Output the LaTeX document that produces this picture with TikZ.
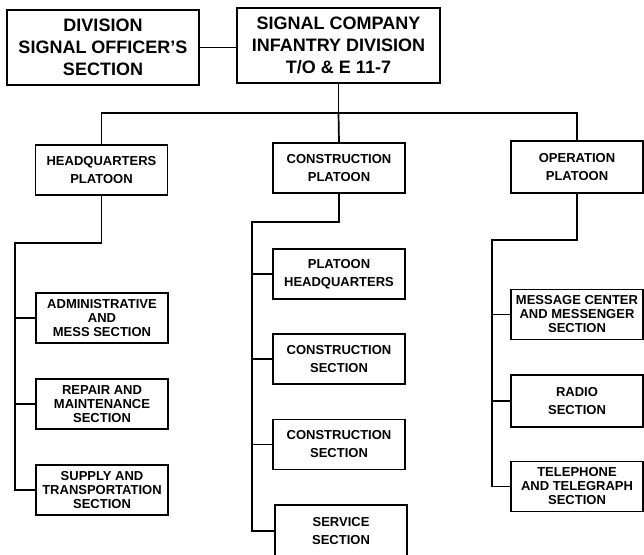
\documentclass[tikz,border=0pt]{standalone}
\usepackage{fontspec}
\setmainfont{Liberation Sans}

\begin{document}
\begin{tikzpicture}[x=1pt, y=-1pt, line width=1.7pt]
				\tikzstyle{every node}=[inner sep=1pt, align=center]
				\tikzstyle{headbox}=[draw, line width=1.7pt, font=\fontsize{18}{22}\selectfont\bfseries, minimum height=75pt]
				\tikzstyle{unitbox}=[draw, line width=1.7pt, font=\fontsize{13}{14}\selectfont\bfseries, minimum width=132pt, minimum height=50pt]
				\useasboundingbox (0, 0) rectangle (644, 554);
				\clip (0, 0) rectangle (644, 554);
				% company and division
				\node[headbox, minimum width=192pt] (DSO) at (103, 47.5) {DIVISION\\SIGNAL OFFICER'S\\SECTION};
				\node[headbox, minimum width=203pt] (SC) at (338.5, 45.5) {SIGNAL COMPANY\\INFANTRY DIVISION\\T/O \& E 11-7};
				% platoons
				\node[unitbox] (HQ) at (101.5, 170) {HEADQUARTERS\\[4pt]PLATOON};
				\node[unitbox] (CON) at (339, 168) {CONSTRUCTION\\[4pt]PLATOON};
				\node[unitbox, minimum height=52pt] (OPS) at (577, 167) {OPERATION\\[4pt]PLATOON};
				% sections
				\node[unitbox] (ADM) at (102, 318) {ADMINISTRATIVE\\AND\\MESS SECTION};
				\node[unitbox] (REP) at (102, 404) {REPAIR AND\\MAINTENANCE\\SECTION};
				\node[unitbox] (SUP) at (102, 490) {SUPPLY AND\\TRANSPORTATION\\SECTION};
				\node[unitbox] (PHQ) at (339, 274) {PLATOON\\[4pt]HEADQUARTERS};
				\node[unitbox] (CS1) at (339, 359) {CONSTRUCTION\\[4pt]SECTION};
				\node[unitbox] (CS2) at (339, 444.5) {CONSTRUCTION\\[4pt]SECTION};
				\node[unitbox, minimum height=52pt] (SRV) at (341, 531) {SERVICE\\[4pt]SECTION};
				\node[unitbox] (MSG) at (577, 314.5) {MESSAGE CENTER\\AND MESSENGER\\SECTION};
				\node[unitbox, minimum height=52pt] (RAD) at (577, 401) {RADIO\\[4pt]SECTION};
				\node[unitbox] (TEL) at (577, 486.5) {TELEPHONE\\AND TELEGRAPH\\SECTION};
				% bends
				\coordinate (bus) at (338.5, 113);
				\coordinate (hqspine) at (15, 243);
				\coordinate (conspine) at (252, 222);
				\coordinate (opsspine) at (492, 240);
				% lines
				\draw (DSO.east) -- (DSO.east -| SC.west);
				\draw (SC.south) -- (bus);
				\draw (HQ.north) |- (bus) -| (OPS.north);
				\draw (bus) -- (CON.north);
				\draw (HQ.south) |- (hqspine) |- (SUP.west);
				\draw (hqspine |- ADM.west) -- (ADM.west);
				\draw (hqspine |- REP.west) -- (REP.west);
				\draw (CON.south) |- (conspine) |- (SRV.west);
				\draw (conspine |- PHQ.west) -- (PHQ.west);
				\draw (conspine |- CS1.west) -- (CS1.west);
				\draw (conspine |- CS2.west) -- (CS2.west);
				\draw (OPS.south) |- (opsspine) |- (TEL.west);
				\draw (opsspine |- MSG.west) -- (MSG.west);
				\draw (opsspine |- RAD.west) -- (RAD.west);
		\end{tikzpicture}
\end{document}
